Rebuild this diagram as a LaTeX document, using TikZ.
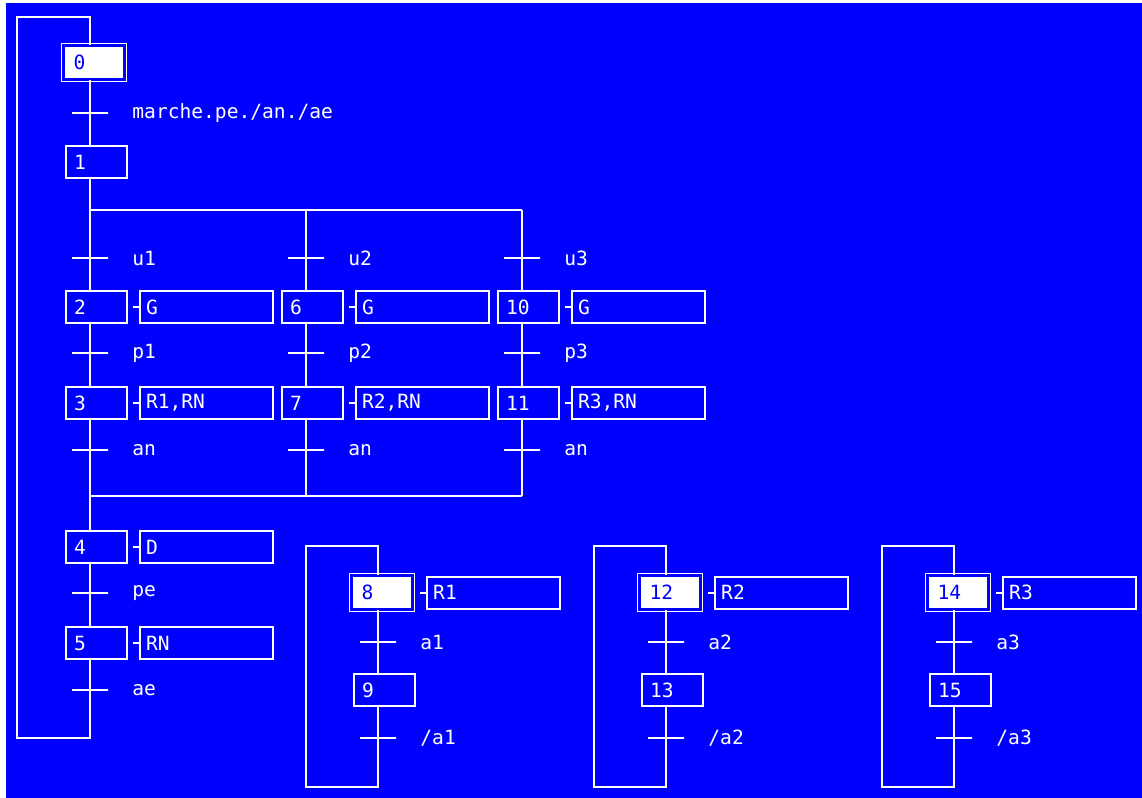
\documentclass[tikz,border=0pt]{standalone}
\usepackage{fontspec}
\usepackage{tikz}
\usetikzlibrary{positioning,calc}
\newfontfamily\pixfont{DejaVu Sans Mono}
\definecolor{screen}{RGB}{0,0,255}

\tikzset{
  link/.style={draw=white, line width=1pt},
  stepbox/.style={draw=white, line width=1pt, text=white, anchor=north west,
    minimum height=16pt, inner xsep=4pt, inner ysep=0pt, text width=22.5pt, align=left},
  initbox/.style={stepbox, fill=white, text=screen, line width=0.6pt,
    double=screen, double distance=1.2pt, minimum height=17pt, inner xsep=5pt, text width=20.5pt},
  actbox/.style={draw=white, line width=1pt, text=white,
    minimum height=16pt, inner xsep=3pt, inner ysep=0pt, text width=60.5pt, align=left},
  trans/.style={draw=white, line width=1pt, minimum width=18pt, minimum height=0pt, inner sep=0pt},
  translabel/.style={text=white, inner sep=0pt},
}

\begin{document}
\begin{tikzpicture}[x=0.5pt,y=-0.5pt,font=\pixfont\fontsize{9.8pt}{11pt}\selectfont]
\useasboundingbox (0,0) rectangle (1142,798);
\fill[screen] (6,3) rectangle (1142,798);

\coordinate (colA) at (90,0);
\coordinate (colB) at (306,0);
\coordinate (colC) at (522,0);
\coordinate (div) at (0,210);
\coordinate (conv) at (0,496);
\coordinate (back) at (17,738);
\coordinate (backtop) at (17,17);

\node[initbox] (s0) at (63,45) {0};
\node[trans] (t0) at (90,113) {};
\node[translabel, right=11.5pt of t0] (l0) {marche.pe./an./ae};
\node[stepbox] (s1) at (65,145) {1};

\node[trans] (tu1) at (90,258) {};
\node[trans] (tu2) at (306,258) {};
\node[trans] (tu3) at (522,258) {};
\node[translabel, right=11.5pt of tu1] (lu1) {u1};
\node[translabel, right=11.5pt of tu2] (lu2) {u2};
\node[translabel, right=11.5pt of tu3] (lu3) {u3};

\node[stepbox] (s2) at (65,290) {2};
\node[stepbox] (s6) at (281,290) {6};
\node[stepbox] (s10) at (497,290) {10};
\node[actbox, right=5.5pt of s2] (a2) {G};
\node[actbox, right=5.5pt of s6] (a6) {G};
\node[actbox, right=5.5pt of s10] (a10) {G};

\node[trans] (tp1) at (90,353) {};
\node[trans] (tp2) at (306,353) {};
\node[trans] (tp3) at (522,353) {};
\node[translabel, right=11.5pt of tp1] (lp1) {p1};
\node[translabel, right=11.5pt of tp2] (lp2) {p2};
\node[translabel, right=11.5pt of tp3] (lp3) {p3};

\node[stepbox] (s3) at (65,386) {3};
\node[stepbox] (s7) at (281,386) {7};
\node[stepbox] (s11) at (497,386) {11};
\node[actbox, right=5.5pt of s3] (a3) {R1,RN};
\node[actbox, right=5.5pt of s7] (a7) {R2,RN};
\node[actbox, right=5.5pt of s11] (a11) {R3,RN};

\node[trans] (tn1) at (90,450) {};
\node[trans] (tn2) at (306,450) {};
\node[trans] (tn3) at (522,450) {};
\node[translabel, right=11.5pt of tn1] (ln1) {an};
\node[translabel, right=11.5pt of tn2] (ln2) {an};
\node[translabel, right=11.5pt of tn3] (ln3) {an};

\node[stepbox] (s4) at (65,530) {4};
\node[actbox, right=5.5pt of s4] (a4) {D};
\node[trans] (tpe) at (90,593) {};
\node[translabel, right=11.5pt of tpe] (lpe) {pe};
\node[stepbox] (s5) at (65,626) {5};
\node[actbox, right=5.5pt of s5] (a5) {RN};
\node[trans] (tae) at (90,690) {};
\node[translabel, right=11.5pt of tae] (lae) {ae};

\foreach \a in {a2,a6,a10,a3,a7,a11,a4,a5}
  \draw[link] (\a.west) -- ++(-3pt,0);

\draw[link] (s0.south -| colA) -- (s1.north -| colA);
\draw[link] (s1.south -| colA) -- (div -| colA) -- (div -| colC);
\draw[link] (div -| colA) -- (s2.north -| colA);
\draw[link] (div -| colB) -- (s6.north -| colB);
\draw[link] (div -| colC) -- (s10.north -| colC);
\draw[link] (s2.south -| colA) -- (s3.north -| colA);
\draw[link] (s6.south -| colB) -- (s7.north -| colB);
\draw[link] (s10.south -| colC) -- (s11.north -| colC);
\draw[link] (s3.south -| colA) -- (conv -| colA);
\draw[link] (s7.south -| colB) -- (conv -| colB);
\draw[link] (s11.south -| colC) -- (conv -| colC);
\draw[link] (conv -| colA) -- (conv -| colC);
\draw[link] (conv -| colA) -- (s4.north -| colA);
\draw[link] (s4.south -| colA) -- (s5.north -| colA);
\draw[link] (s5.south -| colA) |- (back) -- (backtop) -| (s0.north -| colA);

\foreach \x/\m/\n/\act/\cond in {378/8/9/R1/a1,666/12/13/R2/a2,954/14/15/R3/a3}{
  \coordinate (col\m) at (\x,0);
  \coordinate (lb\m) at (\x-72,787);
  \coordinate (lt\m) at (\x-72,546);
  \node[initbox] (s\m) at (\x-27,575) {\m};
  \node[actbox, right=6.5pt of s\m] (a\m) {\act};
  \draw[link] (a\m.west) -- ++(-3pt,0);
  \node[trans] (t\m) at (\x,642) {};
  \node[translabel, right=11.5pt of t\m] (l\m) {\cond};
  \node[stepbox] (s\n) at (\x-25,673) {\n};
  \node[trans] (t\n) at (\x,738) {};
  \node[translabel, right=11.5pt of t\n] (l\n) {/\cond};
  \draw[link] (s\m.south -| col\m) -- (s\n.north -| col\m);
  \draw[link] (s\n.south -| col\m) |- (lb\m) -- (lt\m) -| (s\m.north -| col\m);
}
\end{tikzpicture}
\end{document}
